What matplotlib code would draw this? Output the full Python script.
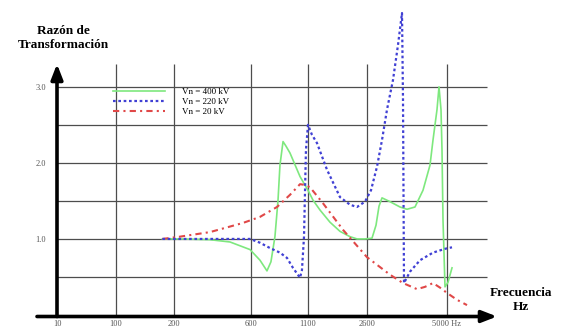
import numpy as np
import matplotlib
matplotlib.use('Agg')
import matplotlib.pyplot as plt

plt.rcParams['font.family'] = ['Liberation Serif', 'DejaVu Serif']

# tick frequencies (Hz) and axis values
xticks = [10, 100, 200, 600, 1100, 2600, 5000]
xtick_labels = ['10', '100', '200', '600', '1100', '2600', '5000 Hz']
yticks = [1.0, 2.0, 3.0]
ytick_labels = ['1.0', '2.0', '3.0']

# Vn = 400 kV
f400 = [180, 230, 387, 491, 595, 679, 740, 775, 810, 837, 854, 881, 907, 942,
        1030, 1100, 1227, 1405, 1659, 1913, 2167, 2346, 2549, 2750, 2870, 2960,
        3050, 3290, 3590, 3800, 4040, 4280, 4490, 4580, 4700, 4760, 4820, 4850,
        4880, 4940, 5030, 5150]
r400 = [1.0, 1.0, 0.99, 0.96, 0.86, 0.72, 0.58, 0.70, 1.03, 1.51, 1.97, 2.28, 2.22, 2.13,
        1.82, 1.64, 1.51, 1.38, 1.22, 1.10, 1.03, 1.0, 1.0, 1.01, 1.18, 1.43,
        1.54, 1.49, 1.42, 1.39, 1.42, 1.64, 1.97, 2.30, 2.70, 3.0, 2.70, 2.17,
        1.25, 0.37, 0.43, 0.62]

# Vn = 220 kV
f220 = [180, 595, 679, 767, 854, 916, 968, 1030, 1047, 1065, 1074, 1082, 1100,
        1200, 1329, 1583, 1913, 2167, 2346, 2549, 2720, 2900, 3050, 3200, 3380,
        3530, 3650, 3680, 3710, 3890, 4190, 4580, 4940, 5150]
r220 = [1.0, 1.0, 0.95, 0.88, 0.82, 0.75, 0.62, 0.49, 0.59, 1.03, 1.64, 2.17, 2.5,
        2.37, 2.26, 1.91, 1.55, 1.45, 1.42, 1.49, 1.64, 1.95, 2.30, 2.70, 3.09,
        3.55, 3.97, 2.83, 0.42, 0.57, 0.72, 0.82, 0.87, 0.89]

# Vn = 20 kV
f20 = [180, 231, 387, 558, 679, 828, 942, 1030, 1074, 1150, 1480, 1990, 2600,
       3290, 3680, 4100, 4340, 4580, 4790, 5000, 5300, 5600]
r20 = [1.0, 1.03, 1.09, 1.21, 1.29, 1.42, 1.58, 1.72, 1.71, 1.68, 1.47, 1.12, 0.76,
       0.53, 0.42, 0.34, 0.37, 0.42, 0.36, 0.29, 0.20, 0.13]

# piecewise axis: position of each tick along the drawn axis
knot_f = np.array([10, 100, 200, 600, 1100, 2600, 5000, 6500], dtype=float)
knot_p = np.array([57, 116, 174, 251, 308, 367, 447, 497], dtype=float)

def fwd(f):
    return np.interp(f, knot_f, knot_p)

def inv(p):
    return np.interp(p, knot_p, knot_f)


fig = plt.figure(figsize=(5.62, 3.31), dpi=100)
ax = fig.add_axes([57 / 562, 16 / 331, 440 / 562, 251 / 331])
ax.set_xscale('function', functions=(fwd, inv))
ax.set_xlim(10, 6500)
ax.set_ylim(0, 3.30)
for s in ax.spines.values():
    s.set_visible(False)

# grid
grid_c = '#4d4d4d'
ax.hlines([0.5, 1.0, 1.5, 2.0, 2.5, 3.0], 10, 6200, color=grid_c, lw=0.9, zorder=1)
ax.vlines(xticks[1:], 0, 3.30, color=grid_c, lw=0.9, zorder=1)

ax.plot(f400, r400, color='#7ee87e', lw=1.2, label='Vn = 400 kV', zorder=3)
ax.plot(f220, r220, color='#4040d4', lw=1.6, ls=(0, (1.2, 1.2)), label='Vn = 220 kV',
        zorder=4, clip_on=False)
ax.plot(f20, r20, color='#e04848', lw=1.5, ls=(0, (3, 2, 1, 2)), label='Vn = 20 kV',
        zorder=3)

ax.set_xticks(xticks)
ax.set_xticklabels(xtick_labels)
ax.set_yticks(yticks)
ax.set_yticklabels(ytick_labels)
ax.tick_params(length=0, labelsize=6, labelcolor='#555555')
ax.tick_params(axis='x', pad=3.5)
ax.tick_params(axis='y', pad=8)

# axis arrows
ax.annotate('', xy=(0, 1.0), xycoords='axes fraction', xytext=(0, -0.006),
            arrowprops=dict(arrowstyle='-|>,head_length=0.9,head_width=0.35',
                            lw=2.6, color='black', shrinkA=0, shrinkB=0))
ax.annotate('', xy=(1.0, -0.006), xycoords='axes fraction',
            xytext=(-20 / 440, -0.006),
            arrowprops=dict(arrowstyle='-|>,head_length=0.9,head_width=0.35',
                            lw=2.6, color='black', shrinkA=0, shrinkB=0))

fig.text(63 / 562, 1 - 38 / 331, 'Razón de\nTransformación', ha='center', va='center',
         fontsize=9.5, fontweight='bold', linespacing=1.25)
fig.text(521 / 562, 1 - 300 / 331, 'Frecuencia\nHz', ha='center', va='center',
         fontsize=9.5, fontweight='bold', linespacing=1.25)

ax.legend(loc='upper left', bbox_to_anchor=(113 / 562, 1 - 88 / 331),
          bbox_transform=fig.transFigure, frameon=False, fontsize=6.5,
          handlelength=5.8, handletextpad=1.8, labelspacing=0.15,
          borderpad=0, borderaxespad=0)

fig.savefig('out.png', dpi=100)
